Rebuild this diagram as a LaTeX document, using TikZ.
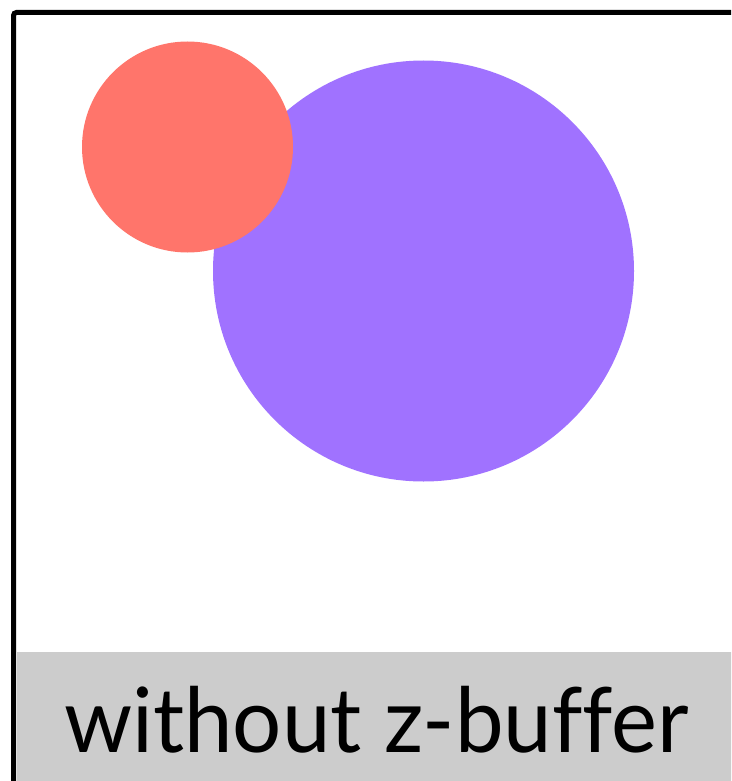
\documentclass[tikz,border=0pt]{standalone}
\usepackage{fontspec}
\setmainfont{Lato}[Ligatures=NoCommon]
\definecolor{redc}{HTML}{FF756B}
\definecolor{purplec}{HTML}{A072FF}
\definecolor{bandc}{HTML}{CCCCCC}
\tikzset{
  frameline/.style={line width=5pt, draw=black, rounded corners=3pt},
  disc/.style={circle, inner sep=0pt, draw=none}
}
\begin{document}
\begin{tikzpicture}[x=1pt,y=-1pt]
\useasboundingbox (0,0) rectangle (731,781);
\clip (0,0) rectangle (731,781);
\fill[white] (0,0) rectangle (731,781);
\fill[bandc] (17,652) rectangle (740,790);
\draw[frameline] (13.5,800) -- (13.5,12.5) -- (760,12.5);
\node[disc, fill=purplec, minimum size=421pt] (big) at (423.5,271) {};
\node[disc, fill=redc, minimum size=211pt] (small) at (187.5,147) {};
\node[anchor=base, inner sep=0pt, xscale=0.965, font=\fontsize{90}{90}\selectfont] (label) at (376.5,752) {without z-buffer};
\end{tikzpicture}
\end{document}
